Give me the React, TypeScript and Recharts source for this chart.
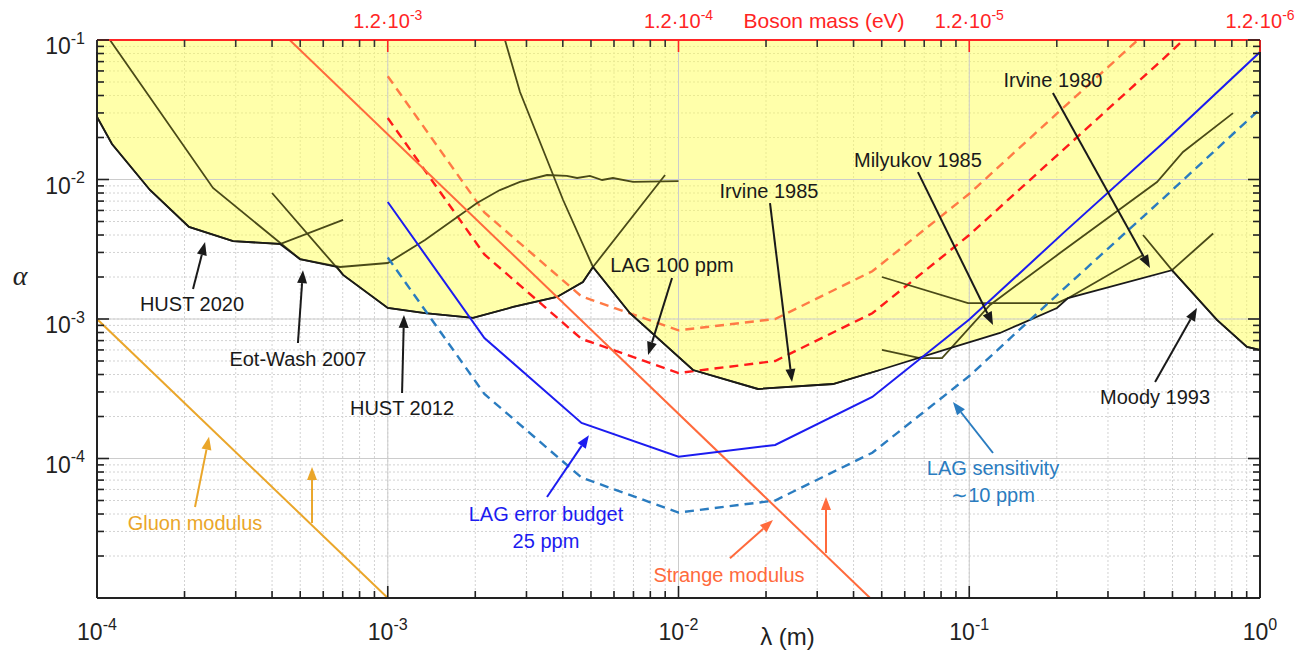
import React from "react";
import {
  ComposedChart, Area, Line, XAxis, YAxis, CartesianGrid, ReferenceLine, ReferenceDot,
} from "recharts";

type Pt = [number, number];

const X_MIN = 1e-4, X_MAX = 1, Y_MIN = 1e-5, Y_MAX = 1e-1;
const X_MAJOR = [1e-4, 1e-3, 1e-2, 1e-1, 1];
const Y_MAJOR = [1e-5, 1e-4, 1e-3, 1e-2, 1e-1];
// top axis: boson mass 1.2·10^n eV at each major λ
const MASS_EXP = ["", "-3", "-4", "-5", "-6"];

// lower edge of the excluded (yellow) region, [λ (m), α]
const envelope: Pt[] = [
  [1e-4, 0.0281], [1.126e-4, 0.01796], [1.521e-4, 8.41e-3], [2.072e-4, 4.57e-3],
  [2.937e-4, 3.62e-3], [4.26e-4, 3.45e-3], [4.99e-4, 2.69e-3], [6.69e-4, 2.36e-3],
  [7.02e-4, 2.07e-3], [1.0e-3, 1.2e-3], [1.343e-3, 1.1e-3], [1.965e-3, 1.02e-3],
  [2.7e-3, 1.22e-3], [3.82e-3, 1.44e-3], [4.69e-3, 1.84e-3], [5.08e-3, 2.36e-3],
  [6.81e-3, 1.1e-3], [1.122e-2, 4.31e-4], [1.876e-2, 3.15e-4], [3.4e-2, 3.42e-4],
  [4.93e-2, 4.31e-4], [8.59e-2, 6.19e-4], [0.1276, 7.94e-4], [0.2003, 1.2e-3],
  [0.2186, 1.41e-3], [0.498, 2.24e-3], [0.711, 9.84e-4], [0.902, 6.3e-4], [1, 6.0e-4],
];

// individual experimental curves
const hust2020: Pt[] = [
  [1e-4, 0.0281], [1.126e-4, 0.01796], [1.521e-4, 8.41e-3], [2.072e-4, 4.57e-3],
  [2.937e-4, 3.62e-3], [4.26e-4, 3.45e-3], [7.02e-4, 5.13e-3],
];
const eotWash2007: Pt[] = [
  [1.108e-4, 0.1], [2.506e-4, 8.69e-3], [4.99e-4, 2.69e-3], [6.85e-4, 2.36e-3],
  [1e-3, 2.52e-3], [1.343e-3, 3.68e-3], [2.028e-3, 6.78e-3], [2.43e-3, 8.4e-3],
  [2.85e-3, 9.6e-3], [3.53e-3, 1.077e-2], [4.13e-3, 1.06e-2], [4.48e-3, 1.025e-2],
  [4.96e-3, 1.06e-2], [5.46e-3, 9.92e-3], [5.95e-3, 1.025e-2], [6.98e-3, 9.6e-3], [1e-2, 9.75e-3],
];
const hust2012: Pt[] = [
  [4.0e-4, 8.0e-3], [7.02e-4, 2.07e-3], [1e-3, 1.2e-3], [1.343e-3, 1.1e-3],
  [1.965e-3, 1.02e-3], [2.7e-3, 1.22e-3], [3.82e-3, 1.44e-3], [4.69e-3, 1.84e-3],
  [5.08e-3, 2.36e-3], [8.99e-3, 1.077e-2],
];
const irvine1985: Pt[] = [
  [2.53e-3, 0.1], [2.85e-3, 4.24e-2], [4.01e-3, 7.13e-3], [5.08e-3, 2.36e-3],
  [6.81e-3, 1.1e-3], [1.122e-2, 4.31e-4], [1.876e-2, 3.15e-4], [3.4e-2, 3.42e-4], [4.93e-2, 4.31e-4],
];
const milyukov1985: Pt[] = [
  [5.01e-2, 2.0e-3], [9.9e-2, 1.3e-3], [0.2003, 1.3e-3], [0.2186, 1.41e-3], [0.396, 2.88e-3],
];
const irvine1980: Pt[] = [
  [5.01e-2, 6.0e-4], [6.77e-2, 5.25e-4], [8.06e-2, 5.25e-4], [0.1179, 1.26e-3],
  [0.2051, 2.97e-3], [0.4424, 9.6e-3], [0.5435, 1.575e-2], [0.8075, 2.99e-2],
];
const moody1993: Pt[] = [
  [0.396, 4.0e-3], [0.498, 2.24e-3], [0.711, 9.84e-4], [0.902, 6.3e-4], [1, 6.0e-4],
];
const moodyBranch: Pt[] = [[0.498, 2.24e-3], [0.69, 4.1e-3]];

// LAG projections
const LAG_LAMBDA = [1e-3, 2.15e-3, 4.64e-3, 1e-2, 2.15e-2, 4.64e-2, 0.1, 0.215, 0.464, 1];
const lagBudget25 = [6.9e-3, 7.3e-4, 1.8e-4, 1.03e-4, 1.25e-4, 2.76e-4, 9.9e-4, 4.3e-3, 1.83e-2, 8.2e-2];
const lagSens10 = [2.76e-3, 2.9e-4, 7.3e-5, 4.1e-5, 5.0e-5, 1.1e-4, 3.9e-4, 1.7e-3, 7.3e-3, 3.2e-2];
const lag100 = [2.76e-2, 2.9e-3, 7.2e-4, 4.1e-4, 5.0e-4, 1.1e-3, 4.0e-3, 1.7e-2, 7.3e-2, 0.33];
const lagUpper = [5.5e-2, 5.8e-3, 1.45e-3, 8.3e-4, 1.0e-3, 2.2e-3, 7.9e-3, 3.4e-2, 0.146, 0.66];

// moduli predictions
const strangeModulus: Pt[] = [[4.6e-4, 0.1], [4.56e-2, 1e-5]];
const gluonModulus: Pt[] = [[1e-4, 1e-3], [1e-3, 1e-5]];

const BLACK = "#1a1a1a";
const OLIVE = "#4a4a18";
const RED = "#ff2424";
const BUDGET = "#1c1cf0";
const SENS = "#2a7cc0";
const STRANGE = "#ff6a3c";
const GLUON = "#eaa62a";
const FONT = "'Liberation Sans', Arial, sans-serif";

interface Note { text: string[]; color: string; at: Pt; from?: Pt; to?: Pt }
const notes: Note[] = [
  { text: ["HUST 2020"], color: BLACK, at: [2.122e-4, 1.281e-3], from: [2.139e-4, 1.64e-3], to: [2.353e-4, 3.56e-3] },
  { text: ["Eot-Wash 2007"], color: BLACK, at: [4.91e-4, 5.17e-4], from: [4.91e-4, 6.73e-4], to: [5.11e-4, 2.24e-3] },
  { text: ["HUST 2012"], color: BLACK, at: [1.12e-3, 2.3e-4], from: [1.12e-3, 2.95e-4], to: [1.137e-3, 1.07e-3] },
  { text: ["LAG 100 ppm"], color: BLACK, at: [9.5e-3, 2.44e-3], from: [9.5e-3, 1.97e-3], to: [7.86e-3, 5.52e-4] },
  { text: ["Irvine 1985"], color: BLACK, at: [2.048e-2, 8.27e-3], from: [2.064e-2, 6.78e-3], to: [2.457e-2, 3.53e-4] },
  { text: ["Milyukov 1985"], color: BLACK, at: [6.66e-2, 1.38e-2], from: [6.66e-2, 1.13e-2], to: [0.1207, 9.06e-4] },
  { text: ["Irvine 1980"], color: BLACK, at: [0.194, 5.17e-2], from: [0.194, 4.17e-2], to: [0.4185, 2.32e-3] },
  { text: ["Moody 1993"], color: BLACK, at: [0.4356, 2.76e-4], from: [0.4356, 3.53e-4], to: [0.607, 1.2e-3] },
  { text: ["LAG sensitivity", "\u223C10 ppm"], color: SENS, at: [0.1207, 8.55e-5], from: [0.1207, 1.095e-4], to: [8.79e-2, 2.54e-4] },
  { text: ["LAG error budget", "25 ppm"], color: BUDGET, at: [3.5e-3, 4.0e-5], from: [3.53e-3, 5.3e-5], to: [4.92e-3, 1.47e-4] },
  { text: ["Strange modulus"], color: STRANGE, at: [1.492e-2, 1.46e-5], from: [1.503e-2, 1.93e-5], to: [2.113e-2, 3.62e-5] },
  { text: ["Gluon modulus"], color: GLUON, at: [2.173e-4, 3.45e-5], from: [2.173e-4, 4.49e-5], to: [2.428e-4, 1.43e-4] },
  { text: [], color: STRANGE, at: [3.216e-2, 2.1e-5], from: [3.216e-2, 2.1e-5], to: [3.216e-2, 5.3e-5] },
  { text: [], color: GLUON, at: [5.49e-4, 3.45e-5], from: [5.49e-4, 3.45e-5], to: [5.49e-4, 8.69e-5] },
];

const rows = (pts: Pt[]) => pts.map(([x, y]) => ({ x, y }));
const zip = (xs: number[], ys: number[]) => xs.map((x, i) => ({ x, y: ys[i] }));

const logTicks = (majors: number[]) => {
  const out: number[] = [];
  majors.slice(0, -1).forEach((m) => { for (let k = 1; k < 10; k++) out.push(k * m); });
  out.push(majors[majors.length - 1]);
  return out;
};
const X_TICKS = logTicks(X_MAJOR);
const Y_TICKS = logTicks(Y_MAJOR);
const isMajor = (v: number) => Math.abs(Math.log10(v) - Math.round(Math.log10(v))) < 1e-6;
const expOf = (v: number) => String(Math.round(Math.log10(v)));

const BottomTick = ({ x, y, payload }: any) => {
  const v = payload.value, major = isMajor(v);
  return (
    <g>
      <line x1={x} y1={y} x2={x} y2={y - (major ? 12 : 7)} stroke="#222" strokeWidth={1.6} />
      {major && (
        <text x={x} y={y + 42} textAnchor="middle" fontSize={23} fill="#222" fontFamily={FONT}>
          10<tspan dy={-10} fontSize={16}>{expOf(v)}</tspan>
        </text>
      )}
    </g>
  );
};

const TopTick = ({ x, y, payload }: any) => {
  const v = payload.value, major = isMajor(v);
  const idx = X_MAJOR.findIndex((m) => Math.abs(m - v) < v * 1e-6);
  const red = major && idx > 0;
  return (
    <g>
      <line x1={x} y1={y} x2={x} y2={y + (major ? 12 : 7)} stroke={red ? RED : "#333"} strokeWidth={1.6} />
      {red && (
        <text x={x} y={y - 12} textAnchor="middle" fontSize={20} fill={RED} fontFamily={FONT}>
          1.2·10<tspan dy={-8} fontSize={14}>{MASS_EXP[idx]}</tspan>
        </text>
      )}
      {idx === 2 && (
        <text x={x + 65} y={y - 12} fontSize={21} fill={RED} fontFamily={FONT}>Boson mass (eV)</text>
      )}
    </g>
  );
};

const LeftTick = ({ x, y, payload }: any) => {
  const v = payload.value, major = isMajor(v);
  return (
    <g>
      <line x1={x} y1={y} x2={x + (major ? 12 : 7)} y2={y} stroke="#222" strokeWidth={1.6} />
      {major && v > Y_MIN && (
        <text x={x - 12} y={y + 14} textAnchor="end" fontSize={23} fill="#222" fontFamily={FONT}>
          10<tspan dy={-10.5} fontSize={16}>{expOf(v)}</tspan>
        </text>
      )}
    </g>
  );
};

const RightTick = ({ x, y, payload }: any) => {
  const major = isMajor(payload.value);
  return <line x1={x} y1={y} x2={x - (major ? 12 : 7)} y2={y} stroke="#222" strokeWidth={1.6} />;
};

const arrowShape = (color: string) => (p: any) => {
  const { x1, y1, x2, y2 } = p;
  const a = Math.atan2(y2 - y1, x2 - x1);
  const L = 13, W = 5;
  const bx = x2 - L * Math.cos(a), by = y2 - L * Math.sin(a);
  return (
    <g>
      <line x1={x1} y1={y1} x2={bx} y2={by} stroke={color} strokeWidth={2} />
      <path d={`M${x2},${y2}L${bx + W * Math.sin(a)},${by - W * Math.cos(a)}L${bx - W * Math.sin(a)},${by + W * Math.cos(a)}Z`} fill={color} />
    </g>
  );
};

const textShape = (note: Note) => (p: any) => (
  <text x={p.cx} y={p.cy} textAnchor="middle" fontSize={20} fill={note.color} fontFamily={FONT}>
    {note.text.map((t, i) => (
      <tspan key={i} x={p.cx} dy={i === 0 ? 7 : 27}>{t}</tspan>
    ))}
  </text>
);

const line = (key: string, data: any[], stroke: string, width = 2, dash?: string) => (
  <Line key={key} data={data} dataKey="y" type="linear" stroke={stroke} strokeWidth={width}
    strokeDasharray={dash} dot={false} activeDot={false} isAnimationActive={false} />
);

export default function App() {
  return (
    <div style={{ position: "absolute", left: 0, top: 0, width: 1299, height: 655, background: "#fff", fontFamily: FONT }}>
      <ComposedChart width={1299} height={655} data={rows(envelope)} margin={{ top: 0, right: 0, bottom: 0, left: 0 }}>
        <CartesianGrid stroke="#d2d2d2" strokeDasharray="2 2" />
        <XAxis dataKey="x" type="number" scale="log" domain={[X_MIN, X_MAX]} allowDataOverflow
          ticks={X_TICKS} interval={0} height={57} tickSize={0} tickMargin={0} tickLine={false}
          axisLine={{ stroke: "#222", strokeWidth: 2 }} tick={BottomTick}
          label={{ content: ({ viewBox }: any) => (
            <text x={viewBox.x + viewBox.width / 2 + 109} y={viewBox.y + 47} fontSize={24} fill="#222" textAnchor="middle" fontFamily={FONT}>λ (m)</text>
          ) }} />
        <XAxis xAxisId="top" orientation="top" dataKey="x" type="number" scale="log" domain={[X_MIN, X_MAX]} allowDataOverflow
          ticks={X_TICKS} interval={0} height={40} tickSize={0} tickMargin={0} tickLine={false}
          axisLine={{ stroke: RED, strokeWidth: 2 }} tick={TopTick} />
        <YAxis type="number" scale="log" domain={[Y_MIN, Y_MAX]} allowDataOverflow ticks={Y_TICKS} interval={0}
          width={97} tickSize={0} tickMargin={0} tickLine={false} axisLine={{ stroke: "#222", strokeWidth: 2 }} tick={LeftTick}
          label={{ content: ({ viewBox }: any) => (
            <text x={viewBox.x + 20} y={285} fontSize={28} fill="#222" textAnchor="middle" fontStyle="italic" fontFamily="'Liberation Serif', serif">α</text>
          ) }} />
        <YAxis yAxisId="right" orientation="right" type="number" scale="log" domain={[Y_MIN, Y_MAX]} allowDataOverflow
          ticks={Y_TICKS} interval={0} width={39} tickSize={0} tickMargin={0} tickLine={false}
          axisLine={{ stroke: "#222", strokeWidth: 2 }} tick={RightTick} />

        {X_MAJOR.slice(1, -1).map((v) => (
          <ReferenceLine key={`gx${v}`} x={v} stroke="#cccccc" strokeWidth={1} />
        ))}
        {Y_MAJOR.slice(1, -1).map((v) => (
          <ReferenceLine key={`gy${v}`} y={v} stroke="#cccccc" strokeWidth={1} />
        ))}

        <Area dataKey={(d: any) => [d.y, Y_MAX]} type="linear" fill="#ffff55" fillOpacity={0.5} stroke="none"
          isAnimationActive={false} activeDot={false} />

        {line("gluon", rows(gluonModulus), GLUON, 2)}
        {line("lagUpper", zip(LAG_LAMBDA, lagUpper), "#ff7a45", 2.4, "9 6")}
        {line("lag100", zip(LAG_LAMBDA, lag100), "#ff1a1a", 2.4, "9 6")}
        {line("hust2020", rows(hust2020), OLIVE, 1.8)}
        {line("eotWash2007", rows(eotWash2007), OLIVE, 1.8)}
        {line("hust2012", rows(hust2012), OLIVE, 1.8)}
        {line("irvine1985", rows(irvine1985), OLIVE, 1.8)}
        {line("milyukov1985", rows(milyukov1985), OLIVE, 1.8)}
        {line("irvine1980", rows(irvine1980), OLIVE, 1.8)}
        {line("moody1993", rows(moody1993), OLIVE, 1.8)}
        {line("moodyBranch", rows(moodyBranch), OLIVE, 1.8)}
        {line("envelope", rows(envelope), BLACK, 1.8)}
        {line("strange", rows(strangeModulus), STRANGE, 2)}
        {line("lagSens", zip(LAG_LAMBDA, lagSens10), SENS, 2.4, "9 6")}
        {line("lagBudget", zip(LAG_LAMBDA, lagBudget25), BUDGET, 2)}

        {notes.filter((n) => n.from && n.to).map((n, i) => (
          <ReferenceLine key={`a${i}`} segment={[{ x: n.from![0], y: n.from![1] }, { x: n.to![0], y: n.to![1] }]}
            ifOverflow="visible" shape={arrowShape(n.color)} />
        ))}
        {notes.filter((n) => n.text.length).map((n, i) => (
          <ReferenceDot key={`t${i}`} x={n.at[0]} y={n.at[1]} r={0} ifOverflow="visible" shape={textShape(n)} />
        ))}
      </ComposedChart>
    </div>
  );
}
